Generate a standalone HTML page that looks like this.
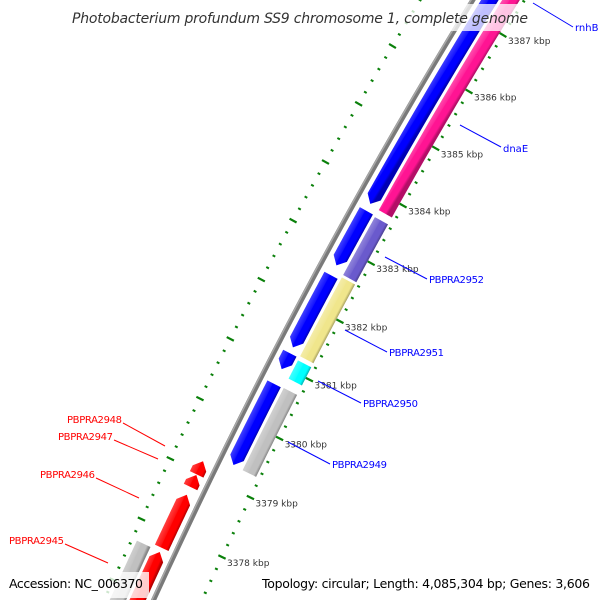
<!DOCTYPE html>
<html><head><meta charset="utf-8"><style>
html,body{margin:0;padding:0;background:#fff;width:600px;height:600px;overflow:hidden;}
svg{display:block;font-family:"DejaVu Sans","Liberation Sans",sans-serif;}
</style></head><body>
<svg id="map" width="600" height="600" viewBox="0 0 600 600" xmlns="http://www.w3.org/2000/svg">
<rect x="0" y="0" width="600" height="600" fill="#fff"/>
<defs id="defs"></defs>
<g id="ticks"></g>
<g id="backbone"></g>
<g id="features"></g>
<g id="ticklabels"></g>
<g font-size="10">
 <g><line x1="533" y1="3" x2="573" y2="27" stroke="#00f" stroke-width="1"/><text x="575" y="31" fill="#00f">rnhB</text></g>
 <g><line x1="460" y1="125" x2="501" y2="147" stroke="#00f" stroke-width="1"/><text x="503" y="152" fill="#00f">dnaE</text></g>
 <g><line x1="385" y1="257" x2="427" y2="279" stroke="#00f" stroke-width="1"/><text x="429" y="283" fill="#00f" textLength="55">PBPRA2952</text></g>
 <g><line x1="345" y1="330" x2="387" y2="352" stroke="#00f" stroke-width="1"/><text x="389" y="356" fill="#00f" textLength="55">PBPRA2951</text></g>
 <g><line x1="318" y1="381" x2="361" y2="403" stroke="#00f" stroke-width="1"/><text x="363" y="407" fill="#00f" textLength="55">PBPRA2950</text></g>
 <g><line x1="288" y1="442" x2="330" y2="464" stroke="#00f" stroke-width="1"/><text x="332" y="468" fill="#00f" textLength="55">PBPRA2949</text></g>
 <g><line x1="123" y1="423" x2="165" y2="446" stroke="#f00" stroke-width="1"/><text x="67" y="423" fill="#f00" textLength="55">PBPRA2948</text></g>
 <g><line x1="114" y1="440" x2="158" y2="459" stroke="#f00" stroke-width="1"/><text x="58" y="440" fill="#f00" textLength="55">PBPRA2947</text></g>
 <g><line x1="96" y1="478" x2="139" y2="498" stroke="#f00" stroke-width="1"/><text x="40" y="478" fill="#f00" textLength="55">PBPRA2946</text></g>
 <g><line x1="65" y1="544" x2="108" y2="563" stroke="#f00" stroke-width="1"/><text x="9" y="544" fill="#f00" textLength="55">PBPRA2945</text></g>
</g>
<rect x="66" y="4" width="468" height="27" fill="#fff" fill-opacity="0.75"/>
<text x="72" y="23" font-size="14" font-style="italic" fill="#333" textLength="456">Photobacterium profundum SS9 chromosome 1, complete genome</text>
<rect x="4" y="572" width="145" height="26" fill="#fff" fill-opacity="0.8"/>
<text x="9" y="588" font-size="12.5" fill="#000" textLength="134">Accession: NC_006370</text>
<text x="262" y="588" font-size="12.5" fill="#000" textLength="328">Topology: circular; Length: 4,085,304 bp; Genes: 3,606</text>
</svg>
<script>
// ---- data ----
const featStart = [3383.76, 3382.64, 3381.25, 3380.87, 3379.32, 3383.78, 3382.72, 3381.32, 3380.95, 3379.33, 3378.96, 3378.75, 3377.74, 3374.0, 3374.0];
const featEnd   = [3391.0, 3383.64, 3382.60, 3381.18, 3380.71, 3391.0, 3383.66, 3382.55, 3381.22, 3380.70, 3379.18, 3378.95, 3378.62, 3377.67, 3377.68];
const featTrack = [0, 0, 0, 0, 0, 1, 1, 1, 1, 1, 2, 2, 2, 2, 3];
const featDir   = [0, 0, 0, 0, 0, -1, -1, -1, -1, -1, 1, 1, 1, 1, 0];
const featColor = ["#ff1493", "#6a5acd", "#f0e68c", "#00ffff", "#c0c0c0", "#0000ff", "#0000ff", "#0000ff", "#0000ff", "#0000ff", "#ff0000", "#ff0000", "#ff0000", "#ff0000", "#c0c0c0"];
const featName  = ["dnaE", "PBPRA2952", "PBPRA2951", "PBPRA2950", "PBPRA2949", "blue-gene-1", "blue-gene-2", "blue-gene-3", "blue-gene-4", "blue-gene-5", "PBPRA2948", "PBPRA2947", "PBPRA2946", "red-gene-4", "PBPRA2945"];
const tickLabels = ["3378 kbp", "3379 kbp", "3380 kbp", "3381 kbp", "3382 kbp", "3383 kbp", "3384 kbp", "3385 kbp", "3386 kbp", "3387 kbp"];
const tickLabelKbp = [3378, 3379, 3380, 3381, 3382, 3383, 3384, 3385, 3386, 3387];

// ---- geometry (arc scale) ----
const NS = "http://www.w3.org/2000/svg";
const A = [222, 557], B = [503, 35], K_A = 3378, K_B = 3387, R = 5500;
const L = Math.hypot(B[0]-A[0], B[1]-A[1]);
const ux = (B[0]-A[0])/L, uy = (B[1]-A[1])/L;
const nx = -uy, ny = ux;
const d = Math.sqrt(R*R - L*L/4);
const C = [(A[0]+B[0])/2 + nx*d, (A[1]+B[1])/2 + ny*d];
const PHI0 = Math.atan2(-ny, -nx);
const HALF = Math.asin(L/(2*R));
const KM = (K_A+K_B)/2;
function pt(k, off){ const phi = PHI0 + (k-KM)/((K_B-K_A)/2)*HALF; const r = R - off; return [C[0]+r*Math.cos(phi), C[1]+r*Math.sin(phi)]; }
const kbpPx = L/(K_B-K_A);
const trackY1 = [-19, -37, -66, -84];
const trackY2 = [-4, -22, -51, -69];
const BACKBONE = -44, RING_IN = 0, RING_OUT = -89;

function el(tag, attrs, parent){ const e = document.createElementNS(NS, tag); for (const a in attrs) e.setAttribute(a, attrs[a]); parent.appendChild(e); return e; }

// ---- tick rings ----
const tg = document.getElementById('ticks');
[RING_IN, RING_OUT].forEach(function(ring){
  for (let i = 3374*5; i <= 3391*5; i++) {
    const k = i/5;
    const major = (i % 5 === 0);
    const h = major ? 4 : 1.5;
    const p1 = pt(k, ring-h), p2 = pt(k, ring+h);
    const t = document.createElementNS(NS, 'line');
    t.setAttribute('x1', p1[0]); t.setAttribute('y1', p1[1]);
    t.setAttribute('x2', p2[0]); t.setAttribute('y2', p2[1]);
    t.setAttribute('stroke', '#0a800a'); t.setAttribute('stroke-width', major ? 2.2 : 2);
    
    
    tg.appendChild(t);
  }
});

// ---- backbone ----
const bg = document.getElementById('backbone');
function arcPath(k1, k2, off){ let s = ''; for (let i = 0; i <= 40; i++){ const p = pt(k1+(k2-k1)*i/40, off); s += (i?'L':'M')+p[0].toFixed(2)+','+p[1].toFixed(2); } return s; }
el('path', {d: arcPath(3372, 3392, BACKBONE), stroke: '#7a7a7a', 'stroke-width': 5, fill: 'none',  }, bg);
el('path', {d: arcPath(3372, 3392, BACKBONE-1.5), stroke: '#a8a8a8', 'stroke-width': 1.5, fill: 'none',  }, bg);

// ---- features ----
const defs = document.getElementById('defs');
const fg = document.getElementById('features');
function shade(hex, f){ const n = parseInt(hex.slice(1), 16); let r = n>>16, g = (n>>8)&255, b = n&255;
  if (f > 0){ r += (255-r)*f; g += (255-g)*f; b += (255-b)*f; } else { r *= (1+f); g *= (1+f); b *= (1+f); }
  return 'rgb('+Math.round(r)+','+Math.round(g)+','+Math.round(b)+')'; }
const TIP = 8/kbpPx;
for (let i = 0; i < featStart.length; i++){
  const k1 = featStart[i], k2 = featEnd[i], y1 = trackY1[featTrack[i]], y2 = trackY2[featTrack[i]], ym = (y1+y2)/2;
  const dir = featDir[i];
  const pts = [];
  const N = 30;
  let a = k1, b = k2;
  if (dir === 1) b = k2 - TIP; if (dir === -1) a = k1 + TIP;
  for (let j = 0; j <= N; j++) pts.push(pt(a+(b-a)*j/N, y1));
  if (dir === 1) pts.push(pt(k2, ym));
  for (let j = N; j >= 0; j--) pts.push(pt(a+(b-a)*j/N, y2));
  if (dir === -1) pts.push(pt(k1, ym));
  const km = (k1+k2)/2, g1 = pt(km, y1), g2 = pt(km, y2);
  const gid = 'grad'+i;
  const grad = el('linearGradient', {id: gid, gradientUnits: 'userSpaceOnUse', x1: g1[0], y1: g1[1], x2: g2[0], y2: g2[1]}, defs);
  el('stop', {offset: '0', 'stop-color': shade(featColor[i], 0.25)}, grad);
  el('stop', {offset: '0.4', 'stop-color': shade(featColor[i], 0.08)}, grad);
  el('stop', {offset: '0.45', 'stop-color': featColor[i]}, grad);
  el('stop', {offset: '0.82', 'stop-color': featColor[i]}, grad);
  el('stop', {offset: '1', 'stop-color': shade(featColor[i], -0.3)}, grad);
  const poly = document.createElementNS(NS, 'polygon');
  poly.setAttribute('points', pts.map(p => p[0].toFixed(2)+','+p[1].toFixed(2)).join(' '));
  poly.setAttribute('fill', 'url(#'+gid+')');
  
  
  fg.appendChild(poly);
}

// ---- tick labels ----
const lg = document.getElementById('ticklabels');
for (let i = 0; i < tickLabels.length; i++){
  const p = pt(tickLabelKbp[i], RING_IN);
  const t = document.createElementNS(NS, 'text');
  t.setAttribute('x', (p[0]+5).toFixed(1)); t.setAttribute('y', (p[1]+9).toFixed(1));
  t.setAttribute('font-size', '9'); t.setAttribute('fill', '#333');
  
  
  t.textContent = tickLabels[i];
  lg.appendChild(t);
}
</script>
</body></html>
